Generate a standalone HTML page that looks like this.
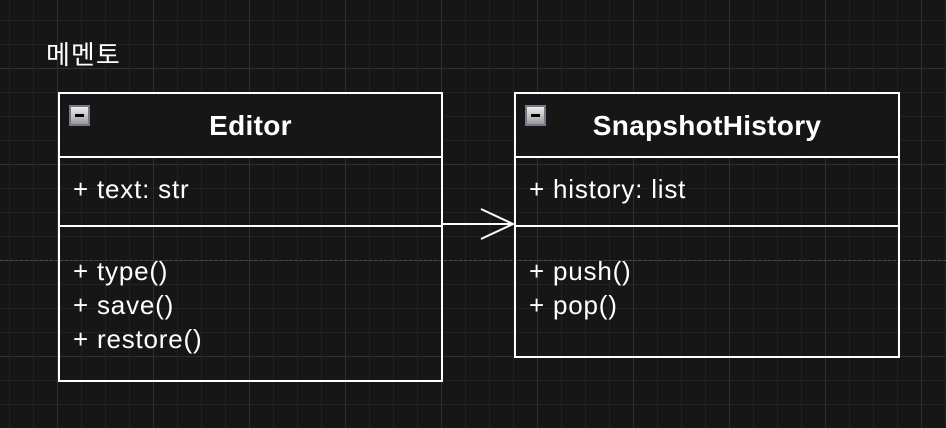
<!DOCTYPE html>
<html><head><meta charset="utf-8"><style>
body{margin:0;width:946px;height:428px;overflow:hidden;background:#161616;
background-image:
linear-gradient(#2f2f2f 1px,transparent 1px),linear-gradient(90deg,#2f2f2f 1px,transparent 1px),
linear-gradient(#212121 1px,transparent 1px),linear-gradient(90deg,#212121 1px,transparent 1px);
background-size:96px 96px,96px 96px,24px 24px,24px 24px;
background-position:0 68px,57px 0,0 20px,9px 0;
font-family:"Liberation Sans","Noto Sans CJK KR",sans-serif;color:#fff;position:relative}
.t{position:absolute;font-size:26px;letter-spacing:1px}
.box{position:absolute;border:2px solid #fff;box-sizing:border-box}
.hd{height:62px;border-bottom:2px solid #fff;position:relative;font-weight:bold;font-size:28px;text-align:center;line-height:64px;background:#161616;letter-spacing:0.3px}
.ic{position:absolute;left:9px;top:11px;width:21px;height:21px;background:linear-gradient(#eee,#999);border:2px solid #778;box-sizing:border-box}
.ic:after{content:"";position:absolute;left:4px;right:4px;top:7px;height:3px;background:#000}
.at{height:69px;border-bottom:2px solid #fff;font-size:26px;padding:16px 0 0 13px;box-sizing:border-box;letter-spacing:0.8px}
.op{font-size:26px;padding:27px 0 0 13px;line-height:34px;letter-spacing:0.8px}
</style></head><body>
<div style="position:absolute;left:0;right:0;top:260px;border-top:1px dashed #4a4a4a"></div>
<div class="t" style="left:46px;top:35px">메멘토</div>
<div class="box" style="left:58px;top:92px;width:385px;height:290px">
<div class="hd"><div class="ic"></div>Editor</div>
<div class="at">+ text: str</div>
<div class="op">+ type()<br>+ save()<br>+ restore()</div></div>
<div class="box" style="left:514px;top:92px;width:386px;height:266px">
<div class="hd"><div class="ic"></div>SnapshotHistory</div>
<div class="at">+ history: list</div>
<div class="op">+ push()<br>+ pop()</div></div>
<svg style="position:absolute;left:0;top:0" width="946" height="428">
<path d="M443 224 L513 224 M481 209 L513 224 L481 239" stroke="#fff" stroke-width="2" fill="none"/>
</svg>
</body></html>
